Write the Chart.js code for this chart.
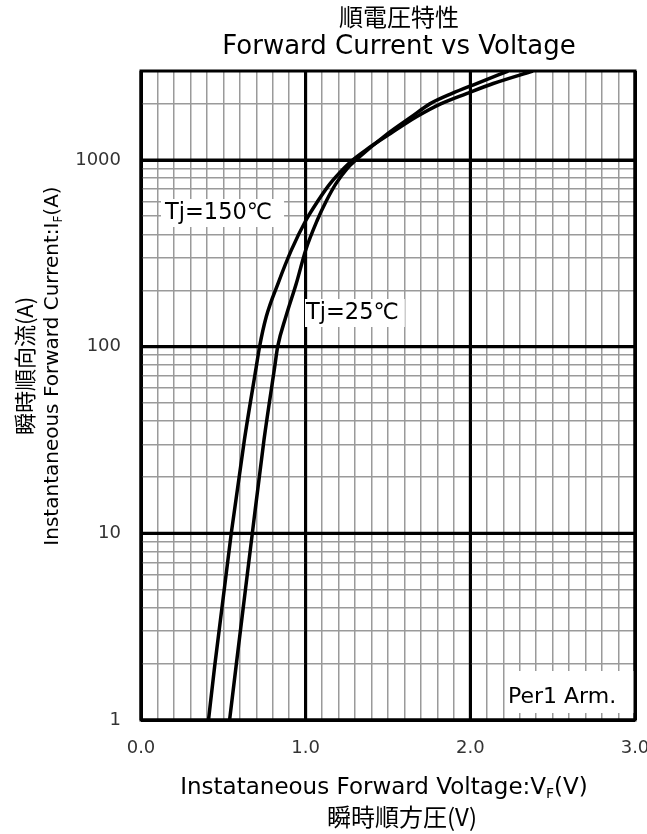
<!DOCTYPE html>
<html>
<head>
<meta charset="utf-8">
<script src="https://cdn.jsdelivr.net/npm/chart.js@4.4.0/dist/chart.umd.min.js"></script>
<style>
  html, body { margin: 0; padding: 0; background: #fff; }
  canvas { display: block; }
</style>
</head>
<body>
<canvas id="vfChart" width="647" height="834"></canvas>
<script>
// Tj = 150 C curve (forward voltage V, forward current A)
const vf150 = [0.41, 0.447, 0.548, 0.628, 0.70, 0.72, 0.761, 0.832, 0.913, 1.0, 1.075, 1.146, 1.237, 1.285, 1.365, 1.515, 1.673, 1.82, 1.977, 2.139, 2.38];
const if150 = [1, 1.93, 10, 31.7, 78, 100, 145, 218, 329, 473, 605, 743, 912, 1000, 1131, 1388, 1706, 2000, 2270, 2571, 3000];
// Tj = 25 C curve
const vf25 = [0.538, 0.577, 0.676, 0.747, 0.812, 0.830, 0.880, 0.943, 1.0, 1.069, 1.126, 1.182, 1.257, 1.305, 1.50, 1.643, 1.754, 1.886, 2.038, 2.23];
const if25 = [1, 1.93, 10, 31.7, 78, 100, 145, 218, 329, 473, 605, 743, 912, 1000, 1388, 1706, 2000, 2270, 2571, 3000];

const xMajorTicks = [0, 1, 2, 3];
const xTickLabels = ['0.0', '1.0', '2.0', '3.0'];
const yMajorTicks = [1, 10, 100, 1000];
const yTickLabels = ['1', '10', '100', '1000'];

const seriesLabels = ['Tj=150℃', 'Tj=25℃'];

const LATIN = '"DejaVu Sans", "Noto Sans CJK JP", sans-serif';
const CJK = '"Noto Sans CJK JP", "DejaVu Sans", sans-serif';

function toPoints(xs, ys) {
    return xs.map((x, i) => ({ x: x, y: ys[i] }));
}

function isMajorX(v) { return Math.abs(v - Math.round(v)) < 1e-6; }
function isMajorY(v) { const l = Math.log10(v); return Math.abs(l - Math.round(l)) < 1e-6; }

// draw a string with a subscript piece, centred at cx
function drawSubText(ctx, parts, cx, cy, size) {
    let total = 0;
    const widths = parts.map(p => {
        ctx.font = (p.sub ? Math.round(size * 0.6) : size) + 'px ' + (p.font || LATIN);
        const w = ctx.measureText(p.t).width;
        total += w;
        return w;
    });
    let x = cx - total / 2;
    ctx.textAlign = 'left';
    ctx.textBaseline = 'middle';
    parts.forEach((p, i) => {
        ctx.font = (p.sub ? Math.round(size * 0.6) : size) + 'px ' + (p.font || LATIN);
        ctx.fillText(p.t, x, p.sub ? cy + size * 0.28 : cy);
        x += widths[i];
    });
}

function labelBox(ctx, text, left, cy, size, padL, padR, h) {
    ctx.font = size + 'px ' + LATIN;
    const w = ctx.measureText(text).width;
    ctx.fillStyle = '#fff';
    ctx.fillRect(left - padL, cy - h / 2, w + padL + padR, h);
    ctx.fillStyle = '#000';
    ctx.textAlign = 'left';
    ctx.textBaseline = 'middle';
    ctx.fillText(text, left, cy);
}

const decorPlugin = {
    id: 'decor',
    beforeDatasetsDraw(chart) {
        const { ctx, chartArea: a, scales: { x, y } } = chart;
        ctx.save();
        // heavy lines on the labelled values
        ctx.strokeStyle = '#000';
        ctx.lineWidth = 3;
        xMajorTicks.forEach(v => {
            const px = x.getPixelForValue(v);
            ctx.beginPath(); ctx.moveTo(px, a.top); ctx.lineTo(px, a.bottom); ctx.stroke();
        });
        yMajorTicks.forEach(v => {
            const py = y.getPixelForValue(v);
            ctx.beginPath(); ctx.moveTo(a.left, py); ctx.lineTo(a.right, py); ctx.stroke();
        });

        // curve labels
        labelBox(ctx, seriesLabels[0], 165, 213, 22.5, 4, 12, 28);
        labelBox(ctx, seriesLabels[1], 306, 313, 22.5, 1, 6, 28);
        ctx.fillStyle = '#fff';
        ctx.fillRect(505, 671, a.right - 505, 42);
        ctx.fillStyle = '#000';
        ctx.font = '22px ' + LATIN;
        ctx.textAlign = 'left';
        ctx.textBaseline = 'middle';
        ctx.fillText('Per1 Arm.', 508, 697);
        ctx.restore();
    },
    afterDraw(chart) {
        const { ctx, chartArea: a, scales: { x, y } } = chart;
        ctx.save();
        ctx.strokeStyle = '#000';
        ctx.lineWidth = 3;
        ctx.strokeRect(a.left, a.top, a.right - a.left, a.bottom - a.top);

        // tick labels
        ctx.fillStyle = '#333';
        ctx.font = '18px ' + LATIN;
        ctx.textBaseline = 'middle';
        ctx.textAlign = 'center';
        xMajorTicks.forEach((v, i) => ctx.fillText(xTickLabels[i], x.getPixelForValue(v), 748));
        ctx.textAlign = 'right';
        yMajorTicks.forEach((v, i) => ctx.fillText(yTickLabels[i], 121, y.getPixelForValue(v)));

        // chart title
        ctx.fillStyle = '#000';
        ctx.textAlign = 'center';
        ctx.font = '24px ' + CJK;
        ctx.fillText('順電圧特性', 399, 17);
        ctx.font = '26px ' + LATIN;
        ctx.fillText('Forward Current vs Voltage', 399, 47);

        // x axis title
        drawSubText(ctx, [
            { t: 'Instataneous Forward Voltage:V' },
            { t: 'F', sub: true },
            { t: '(V)' }
        ], 384, 788, 23);
        ctx.textAlign = 'center';
        ctx.font = '24px ' + CJK;
        ctx.fillText('瞬時順方圧(V)', 402, 817);

        // y axis title
        ctx.translate(0, 366);
        ctx.rotate(-Math.PI / 2);
        ctx.font = '22px ' + CJK;
        ctx.textAlign = 'center';
        ctx.textBaseline = 'middle';
        ctx.fillText('瞬時順向流(A)', 0, 25);
        drawSubText(ctx, [
            { t: 'Instantaneous Forward Current:I' },
            { t: 'F', sub: true },
            { t: '(A)' }
        ], 0, 53, 20);
        ctx.restore();
    }
};

new Chart(document.getElementById('vfChart'), {
    type: 'line',
    data: {
        datasets: [
            {
                label: seriesLabels[0],
                data: toPoints(vf150, if150),
                borderColor: '#000',
                borderWidth: 3.5,
                pointRadius: 0,
                cubicInterpolationMode: 'monotone',
                fill: false
            },
            {
                label: seriesLabels[1],
                data: toPoints(vf25, if25),
                borderColor: '#000',
                borderWidth: 3.5,
                pointRadius: 0,
                cubicInterpolationMode: 'monotone',
                fill: false
            }
        ]
    },
    options: {
        responsive: false,
        devicePixelRatio: 1,
        animation: false,
        layout: { padding: { left: 141, right: 12, top: 71, bottom: 114 } },
        plugins: {
            legend: { display: false },
            tooltip: { enabled: false }
        },
        scales: {
            x: {
                type: 'linear',
                min: 0,
                max: 3,
                afterBuildTicks(scale) {
                    const t = [];
                    for (let i = 0; i <= 30; i++) t.push({ value: i / 10 });
                    scale.ticks = t;
                },
                ticks: { display: false },
                border: { display: false },
                grid: {
                    drawTicks: false,
                    color: c => isMajorX(c.tick.value) ? '#000' : '#9a9a9a',
                    lineWidth: c => isMajorX(c.tick.value) ? 3 : 1.5
                }
            },
            y: {
                type: 'logarithmic',
                min: 1,
                max: 3000,
                afterBuildTicks(scale) {
                    const t = [];
                    for (let d = 1; d <= 1000; d *= 10) {
                        for (let m = 1; m <= 9; m++) {
                            if (d * m <= 3000) t.push({ value: d * m });
                        }
                    }
                    scale.ticks = t;
                },
                ticks: { display: false },
                border: { display: false },
                grid: {
                    drawTicks: false,
                    color: c => isMajorY(c.tick.value) ? '#000' : '#9a9a9a',
                    lineWidth: c => isMajorY(c.tick.value) ? 3 : 1.5
                }
            }
        }
    },
    plugins: [decorPlugin]
});
</script>
</body>
</html>
